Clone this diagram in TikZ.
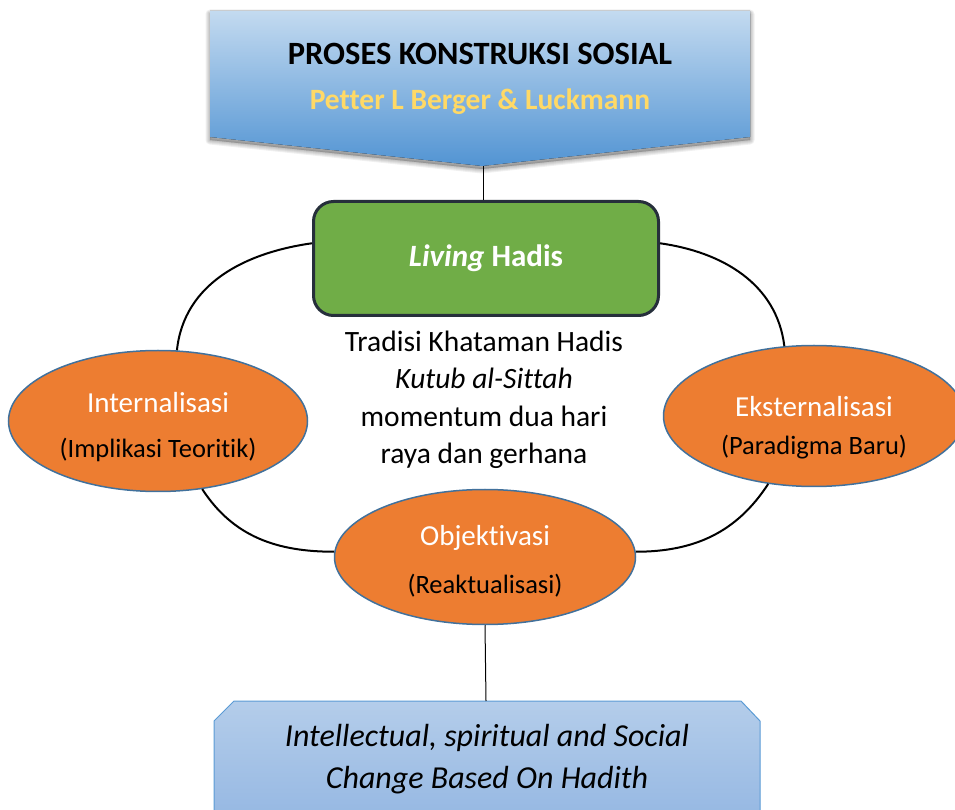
\documentclass[tikz,border=0pt]{standalone}
\usepackage{fontspec}
\setmainfont{Carlito}[Ligatures={NoCommon,NoRequired,NoContextual}, RawFeature={-liga;-clig;-dlig}]
\usetikzlibrary{shapes.geometric}
\definecolor{bannertop}{HTML}{C3DAF0}
\definecolor{bannerbot}{HTML}{5294D3}
\definecolor{authorgold}{HTML}{FFD966}
\definecolor{hubfill}{HTML}{70AD47}
\definecolor{hubline}{HTML}{262F3B}
\definecolor{phasefill}{HTML}{ED7D31}
\definecolor{phaseline}{HTML}{41719C}
\definecolor{changetop}{HTML}{B4CDEA}
\definecolor{changebot}{HTML}{93B6E2}
\definecolor{changeline}{HTML}{5B9BD5}

\begin{document}
\begin{tikzpicture}[x=1pt, y=1pt,
    hub/.style={draw=hubline, line width=3pt, rounded corners=20pt, fill=hubfill, minimum width=345pt, minimum height=114pt, text=white, font=\fontsize{31}{37}\selectfont\bfseries},
    phase/.style={ellipse, draw=phaseline, line width=1.5pt, fill=phasefill, inner sep=0pt},
    phasename/.style={text=white, font=\fontsize{29}{35}\selectfont},
    phasenote/.style={font=\fontsize{26.5}{32}\selectfont},
    link/.style={line width=2pt},
    stem/.style={line width=1pt}
]
\useasboundingbox (0,0) rectangle (955,809);

% banner on top, with a soft shadow
\begin{scope}[yshift=-3pt]
\foreach \w in {9,7,5,3,1}
  \draw[black, opacity=0.06, line width=\w pt, line join=round, fill=black, fill opacity=0.05]
    (210,798) -- (750,798) -- (750,672) -- (482,643) -- (210,672) -- cycle;
\end{scope}
\fill[top color=bannertop, bottom color=bannerbot]
    (210,798) -- (750,798) -- (750,672) -- (482,643) -- (210,672) -- cycle;
\node[font=\fontsize{32.5}{38}\selectfont\bfseries] (title) at (480,755) {PROSES KONSTRUKSI SOSIAL};
\node[font=\fontsize{29.5}{35}\selectfont\bfseries, text=authorgold] (author) at (480,707) {Petter L Berger \& Luckmann};
\coordinate (bannertip) at (483,643);

% result box at the bottom
\path[top color=changetop, bottom color=changebot, draw=changeline, line width=1pt]
    (214,-20) -- (214,88) -- (234,108) -- (741,108) -- (760,88) -- (760,-20) -- cycle;
\coordinate (changetop) at (486,108);
\node[align=center, font=\fontsize{32}{42}\selectfont\itshape] (change) at (487,50) {Intellectual, spiritual and Social\\Change Based On Hadith};

% centre
\node[hub] (living) at (486,550.5) {\textit{Living} Hadis};
\node[align=center, font=\fontsize{29.5}{37.5}\selectfont] (tradisi) at (484,409) {Tradisi Khataman Hadis\\\textit{Kutub al-Sittah}\\momentum dua hari\\raya dan gerhana};

% the three moments
\node[phase, minimum width=299pt, minimum height=141pt] (intern) at (158,388) {};
\node[phasename, yshift=18pt] (internname) at (intern) {Internalisasi};
\node[phasenote, yshift=-29pt] (internnote) at (intern) {(Implikasi Teoritik)};

\node[phase, minimum width=301pt, minimum height=141pt] (ekstern) at (814,393) {};
\node[phasename, yshift=9pt] (eksternname) at (ekstern) {Eksternalisasi};
\node[phasenote, yshift=-31pt] (eksternnote) at (ekstern) {(Paradigma Baru)};

\node[phase, minimum width=301pt, minimum height=135pt] (objek) at (485,252) {};
\node[phasename, yshift=19pt] (objekname) at (objek) {Objektivasi};
\node[phasenote, yshift=-29pt] (objeknote) at (objek) {(Reaktualisasi)};

\draw[stem] (bannertip) -- (living.north -| bannertip);
\draw[stem] (objek.south) -- (changetop);
\draw[link] (living.175) to[out=188, in=84] (intern.75);
\draw[link] (living.5) to[out=-8, in=97] (ekstern.113);
\draw[link] (intern.303) to[out=-57, in=180] (objek.178);
\draw[link] (ekstern.236) to[out=237, in=0] (objek.2);
\end{tikzpicture}
\end{document}
